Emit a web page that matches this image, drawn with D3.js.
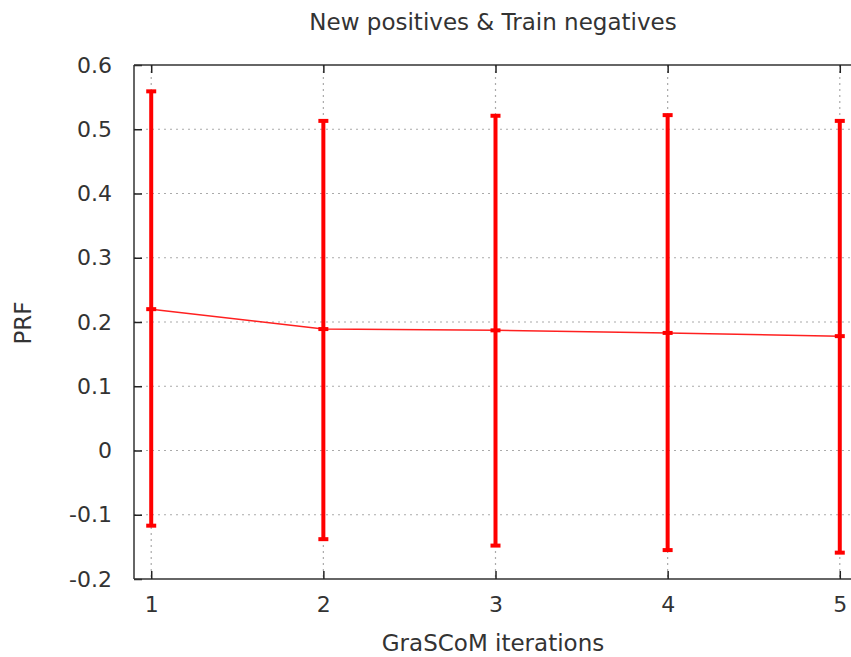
<!DOCTYPE html>
<html>
<head>
<meta charset="utf-8">
<script src="https://cdn.jsdelivr.net/npm/d3@7"></script>
<style>
  body { margin: 0; background: #fff; }
  text { font-family: "DejaVu Sans", sans-serif; fill: #333; }
</style>
</head>
<body>
<div id="chart"></div>
<script>
// data
var iterations = [1, 2, 3, 4, 5];
var prfMean = [0.220, 0.189, 0.187, 0.183, 0.178];
var prfLow = [-0.117, -0.138, -0.148, -0.155, -0.159];
var prfHigh = [0.559, 0.513, 0.521, 0.522, 0.513];
var yTicks = [-0.2, -0.1, 0, 0.1, 0.2, 0.3, 0.4, 0.5, 0.6];

var W = 851, H = 657;
var margin = {top: 65, right: -6, bottom: 78, left: 134},
    width = W - margin.left - margin.right,
    height = H - margin.top - margin.bottom;

var svg = d3.select('#chart').append('svg')
    .attr('width', W).attr('height', H);
var g = svg.append('g')
    .attr('transform', 'translate(' + margin.left + ',' + margin.top + ')');

var x = d3.scaleLinear().domain([0.9, 5.1]).range([0, width]);
var y = d3.scaleLinear().domain([-0.2, 0.6]).range([height, 0]);

// grid
g.selectAll('.hgrid').data(yTicks.slice(1, -1)).enter().append('line')
    .attr('x1', 0).attr('x2', width)
    .attr('y1', d => y(d)).attr('y2', d => y(d))
    .attr('stroke', '#aaa').attr('stroke-width', 1.2)
    .attr('stroke-dasharray', '2,4');
g.selectAll('.vgrid').data(iterations).enter().append('line')
    .attr('x1', d => x(d)).attr('x2', d => x(d))
    .attr('y1', 0).attr('y2', height)
    .attr('stroke', '#aaa').attr('stroke-width', 1.2)
    .attr('stroke-dasharray', '2,4');

// axes (gnuplot style: inward ticks)
var yAxis = g.append('g').call(d3.axisLeft(y).tickValues(yTicks)
    .tickFormat(d => d3.format('.1f')(d).replace('0.0', '0').replace('−', '-'))
    .tickSize(-8).tickPadding(22));
var xAxis = g.append('g').attr('transform', 'translate(0,' + height + ')')
    .call(d3.axisBottom(x).tickValues(iterations).tickFormat(d3.format('d'))
    .tickSize(-8).tickPadding(17));
var xTop = g.append('g').call(d3.axisTop(x).tickValues(iterations)
    .tickFormat('').tickSize(-8));
[yAxis, xAxis, xTop].forEach(function(a) {
  a.select('.domain').attr('stroke', '#333').attr('stroke-width', 1.5);
  a.selectAll('.tick line').attr('stroke', '#222').attr('stroke-width', 1.5);
  a.selectAll('.tick text').attr('font-size', 22)
      .style('font-family', '"DejaVu Sans", sans-serif').attr('fill', '#333');
});
yAxis.select('.domain').attr('d', 'M0,0V' + height);
xAxis.select('.domain').attr('d', 'M0,0H' + width);
xTop.select('.domain').attr('d', 'M0,0H' + width);

// mean line
var pts = iterations.map((d, i) => ({it: d, mean: prfMean[i], lo: prfLow[i], hi: prfHigh[i]}));
g.append('path').datum(pts)
    .attr('fill', 'none').attr('stroke', '#ff2020').attr('stroke-width', 1.5)
    .attr('d', d3.line().x(d => x(d.it)).y(d => y(d.mean)));

// error bars
var bars = g.selectAll('.bar').data(pts).enter().append('g');
bars.append('line')
    .attr('x1', d => x(d.it)).attr('x2', d => x(d.it))
    .attr('y1', d => y(d.lo)).attr('y2', d => y(d.hi))
    .attr('stroke', 'red').attr('stroke-width', 4);
[d => d.lo, d => d.hi, d => d.mean].forEach(function(f) {
  bars.append('line')
      .attr('x1', d => x(d.it) - 5).attr('x2', d => x(d.it) + 5)
      .attr('y1', d => y(f(d))).attr('y2', d => y(f(d)))
      .attr('stroke', 'red').attr('stroke-width', 4);
});

// labels
svg.append('text').attr('x', 493).attr('y', 30).attr('text-anchor', 'middle')
    .attr('font-size', 23).text('New positives & Train negatives');
svg.append('text').attr('x', 493).attr('y', 651).attr('text-anchor', 'middle')
    .attr('font-size', 23).text('GraSCoM iterations');
svg.append('text').attr('transform', 'translate(31,323) rotate(-90)')
    .attr('text-anchor', 'middle').attr('font-size', 23).text('PRF');
</script>
</body>
</html>
